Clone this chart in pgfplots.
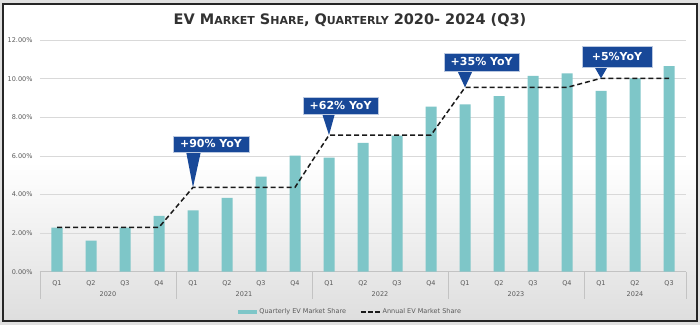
\documentclass[border=0pt]{standalone}
\usepackage{fontspec}
\setmainfont{DejaVu Sans}
\usepackage{pgfplots}
\pgfplotsset{compat=1.18}
\definecolor{barteal}{RGB}{126,198,200}
\definecolor{callblue}{RGB}{24,72,152}
\definecolor{ticktext}{RGB}{89,89,89}
\definecolor{gridc}{RGB}{217,217,217}
\definecolor{sepc}{RGB}{195,195,195}
\definecolor{titlec}{RGB}{50,50,50}
\tikzset{callbox/.style={fill=callblue, text=white, font=\bfseries\fontsize{11}{13}\selectfont,
  inner xsep=0pt, inner ysep=0pt, draw=white!70!callblue, line width=0.4pt}}
\begin{document}
\begin{tikzpicture}[x=1pt,y=1pt]
\useasboundingbox (0,0) rectangle (700,325);
\fill[black!12] (0,0) rectangle (700,325);
\shade[top color=white, bottom color=black!13, middle color=white] (3,4) rectangle (697,321);
\node[font=\bfseries\fontsize{14.5}{17}\selectfont, text=titlec] at (350,305)
  {EV M{\fontsize{11}{14}\selectfont ARKET} S{\fontsize{11}{14}\selectfont HARE}, Q{\fontsize{11}{14}\selectfont UARTERLY} 2020- 2024 (Q3)};
\begin{axis}[
  at={(40pt,53.3pt)}, anchor=south west, scale only axis,
  width=646pt, height=231.6pt,
  xmin=-0.5, xmax=18.5, ymin=0, ymax=12,
  ytick={0,2,4,6,8,10,12},
  yticklabels={0.00\%,2.00\%,4.00\%,6.00\%,8.00\%,10.00\%,12.00\%},
  xtick={0,...,18},
  xticklabels={Q1,Q2,Q3,Q4,Q1,Q2,Q3,Q4,Q1,Q2,Q3,Q4,Q1,Q2,Q3,Q4,Q1,Q2,Q3},
  ymajorgrids, grid style={gridc, line width=0.8pt},
  axis line style={draw=none}, major tick length=0pt,
  tick label style={font=\fontsize{6.5}{7}\selectfont, text=ticktext},
  yticklabel style={xshift=-4pt},
  xticklabel style={yshift=-5pt},
  clip=false,
  legend columns=2,
  legend style={at={(axis description cs:0.481,-0.173)}, anchor=center, draw=none, fill=none,
    font=\fontsize{6.5}{7}\selectfont, text=ticktext,
    /tikz/every even column/.append style={column sep=12pt}},
]
\draw[sepc, line width=0.8pt] (axis cs:-0.5,0) -- (axis cs:18.5,0);
\draw[sepc, line width=0.8pt] (axis cs:-0.5,0) -- ([yshift=-27pt]axis cs:-0.5,0);
\draw[sepc, line width=0.8pt] (axis cs:3.5,0) -- ([yshift=-27pt]axis cs:3.5,0);
\draw[sepc, line width=0.8pt] (axis cs:7.5,0) -- ([yshift=-27pt]axis cs:7.5,0);
\draw[sepc, line width=0.8pt] (axis cs:11.5,0) -- ([yshift=-27pt]axis cs:11.5,0);
\draw[sepc, line width=0.8pt] (axis cs:15.5,0) -- ([yshift=-27pt]axis cs:15.5,0);
\draw[sepc, line width=0.8pt] (axis cs:18.5,0) -- ([yshift=-27pt]axis cs:18.5,0);
\addplot[ybar, bar width=11pt, fill=barteal, draw=none,
  legend image code/.code={\fill[barteal] (0pt,-2pt) rectangle (19pt,2pt);}]
  coordinates {(0,2.28)(1,1.61)(2,2.28)(3,2.89)
               (4,3.18)(5,3.83)(6,4.92)(7,6.01)
               (8,5.91)(9,6.67)(10,7.05)(11,8.55)
               (12,8.67)(13,9.10)(14,10.15)(15,10.27)
               (16,9.37)(17,10.02)(18,10.65)};
\addlegendentry{Quarterly EV Market Share}
\addplot[black!90, line width=1.5pt, dash pattern=on 5pt off 3pt, mark=none,
  legend image code/.code={\draw[black!90, line width=1.5pt, dash pattern=on 5pt off 2pt] (0pt,0pt) -- (19pt,0pt);}]
  coordinates {(0,2.3)(1,2.3)(2,2.3)(3,2.3)
               (4,4.37)(5,4.37)(6,4.37)(7,4.37)
               (8,7.08)(9,7.08)(10,7.08)(11,7.08)
               (12,9.55)(13,9.55)(14,9.55)(15,9.55)
               (16,10.02)(17,10.02)(18,10.02)};
\addlegendentry{Annual EV Market Share}
\node[font=\fontsize{6.5}{7}\selectfont, text=ticktext] at ([yshift=-22.3pt]axis cs:1.5,0) {2020};
\node[font=\fontsize{6.5}{7}\selectfont, text=ticktext] at ([yshift=-22.3pt]axis cs:5.5,0) {2021};
\node[font=\fontsize{6.5}{7}\selectfont, text=ticktext] at ([yshift=-22.3pt]axis cs:9.5,0) {2022};
\node[font=\fontsize{6.5}{7}\selectfont, text=ticktext] at ([yshift=-22.3pt]axis cs:13.5,0) {2023};
\node[font=\fontsize{6.5}{7}\selectfont, text=ticktext] at ([yshift=-22.3pt]axis cs:17,0) {2024};
% callout pointers
\fill[callblue] (axis cs:4,4.37) -- ([xshift=-7pt]axis cs:4,6.25) -- ([xshift=8pt]axis cs:4,6.25) -- cycle;
\fill[callblue] (axis cs:8,7.08) -- ([xshift=-7pt]axis cs:8,8.2) -- ([xshift=6pt]axis cs:8,8.2) -- cycle;
\fill[callblue] (axis cs:12,9.55) -- ([xshift=-8pt]axis cs:12,10.45) -- ([xshift=8pt]axis cs:12,10.45) -- cycle;
\fill[callblue] (axis cs:16,10.02) -- ([xshift=-7pt]axis cs:16,10.65) -- ([xshift=7pt]axis cs:16,10.65) -- cycle;
% callout boxes
\node[callbox, minimum width=76pt, minimum height=16pt] at (axis cs:4.53,6.62) {+90\% YoY};
\node[callbox, minimum width=75pt, minimum height=17pt] at (axis cs:8.34,8.61) {+62\% YoY};
\node[callbox, minimum width=75pt, minimum height=18pt] at (axis cs:12.49,10.88) {+35\% YoY};
\node[callbox, minimum width=70pt, minimum height=21pt] at (axis cs:16.47,11.15) {+5\%YoY};
\end{axis}
\draw[line width=2.5pt, black!85] (3,4) rectangle (697,321);
\end{tikzpicture}
\end{document}
